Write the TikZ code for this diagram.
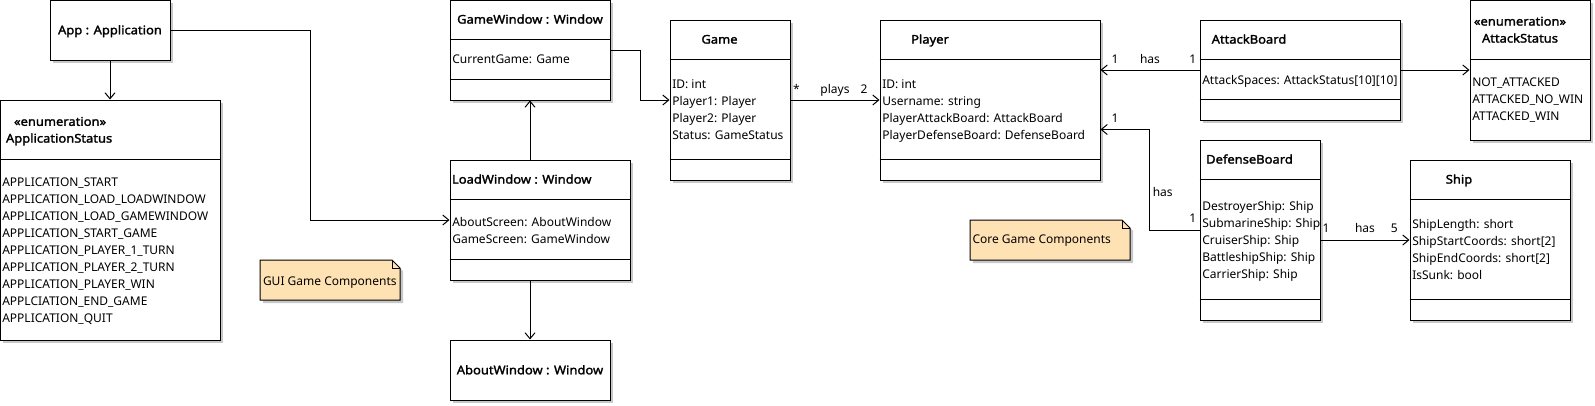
\documentclass[tikz,border=0pt]{standalone}
\usepackage{fontspec}
\setmainfont{Noto Sans}
\newfontfamily\titlefont{Noto Sans}[FakeBold=1.8,FakeStretch=1.08]
\usetikzlibrary{arrows.meta,calc,shadows}
\definecolor{notefill}{RGB}{255,226,180}
\definecolor{shadowgray}{RGB}{200,200,200}
\tikzset{
  umlbox/.style={draw=black,line width=1pt,fill=white,rectangle,inner sep=0pt,
    drop shadow={shadow xshift=3pt,shadow yshift=-3pt,fill=shadowgray,opacity=1}},
  sep/.style={draw=black,line width=1pt},
  arr/.style={draw=black,line width=1pt,-{Straight Barb[length=6pt,width=10pt,line width=1pt]}},
  txt/.style={inner sep=0pt,outer sep=0pt,anchor=base west,font=\fontsize{12}{14}\selectfont},
  boldtxt/.style={inner sep=0pt,outer sep=0pt,anchor=base west,font=\titlefont\fontsize{12}{14}\selectfont},
  ttl/.style={inner sep=0pt,outer sep=0pt,anchor=base,font=\titlefont\fontsize{12}{14}\selectfont},
  lab/.style={inner sep=0pt,outer sep=0pt,anchor=base,font=\fontsize{12}{14}\selectfont},
  notebody/.style={draw=black,line width=1pt,fill=notefill},
}
\newcommand{\mkbox}[5]{%
  \node[umlbox,minimum width={#4-#2},minimum height={#5-#3}] (#1) at ({(#2+#4)/2},{(#3+#5)/2}) {};}
\newcommand{\mksep}[2]{%
  \draw[sep] ($(#1.north west)+(0,#2)$) -- ($(#1.north east)+(0,#2)$);}
\begin{document}
\begin{tikzpicture}[x=1pt,y=-1pt]
\useasboundingbox (0,0) rectangle (1595,405);
% ---- boxes
\mkbox{app}{50}{0}{170}{60}
\mkbox{appst}{0}{100}{220}{340}
\mkbox{gw}{450}{0}{610}{100}
\mkbox{lw}{450}{160}{630}{280}
\mkbox{aw}{450}{340}{610}{400}
\mkbox{game}{670}{20}{790}{180}
\mkbox{player}{880}{20}{1100}{180}
\mkbox{ab}{1200}{20}{1400}{120}
\mkbox{as}{1470}{0}{1590}{140}
\mkbox{db}{1200}{140}{1320}{320}
\mkbox{ship}{1410}{160}{1570}{320}
% separators
\mksep{appst}{60}
\mksep{gw}{40}\mksep{gw}{80}
\mksep{lw}{40}\mksep{lw}{100}
\mksep{game}{40}\mksep{game}{140}
\mksep{player}{40}\mksep{player}{140}
\mksep{ab}{40}\mksep{ab}{80}
\mksep{as}{60}
\mksep{db}{40}\mksep{db}{160}
\mksep{ship}{40}\mksep{ship}{140}
% ---- notes
\fill[shadowgray] (263,263) -- (395,263) -- (403,271) -- (403,303) -- (263,303) -- cycle;
\path[notebody] (260,260) -- (392,260) -- (400,268) -- (400,300) -- (260,300) -- cycle;
\draw[line width=1pt] (392,260) -- (392,268) -- (400,268);
\node[txt] (n1) at (263,285) {GUI Game Components};
\fill[shadowgray] (973,223) -- (1125,223) -- (1133,231) -- (1133,263) -- (973,263) -- cycle;
\path[notebody] (970,220) -- (1122,220) -- (1130,228) -- (1130,260) -- (970,260) -- cycle;
\draw[line width=1pt] (1122,220) -- (1122,228) -- (1130,228);
\node[txt] (n2) at (972.5,243.6) {Core Game Components};
% ---- titles
\node[ttl] (t-app) at (110,34.3) {App : Application};
\node[boldtxt] (t-appst1) at (14,125.8) {«enumeration»};
\node[boldtxt] (t-appst2) at (6,142.6) {ApplicationStatus};
\node[ttl] (t-gw) at (530,23.6) {GameWindow : Window};
\node[boldtxt] (t-lw) at (452,183.6) {LoadWindow : Window};
\node[ttl] (t-aw) at (530,374.3) {AboutWindow : Window};
\node[ttl] (t-game) at (719.5,43.6) {Game};
\node[ttl] (t-player) at (930,43.6) {Player};
\node[ttl] (t-ab) at (1249,43.6) {AttackBoard};
\node[ttl] (t-as1) at (1520,25.6) {«enumeration»};
\node[ttl] (t-as2) at (1520,42.6) {AttackStatus};
\node[ttl] (t-db) at (1249.5,163.6) {DefenseBoard};
\node[ttl] (t-ship) at (1459,183.6) {Ship};
% ---- attributes
\foreach \t [count=\i] in {APPLICATION\_START,APPLICATION\_LOAD\_LOADWINDOW,APPLICATION\_LOAD\_GAMEWINDOW,APPLICATION\_START\_GAME,APPLICATION\_PLAYER\_1\_TURN,APPLICATION\_PLAYER\_2\_TURN,APPLICATION\_PLAYER\_WIN,APPLCIATION\_END\_GAME,APPLICATION\_QUIT}
  \node[txt] (aps\i) at (2.3,{186.2+17*(\i-1)}) {\t};
\node[txt] (gw1) at (452.3,63.6) {CurrentGame: Game};
\node[txt] (lw1) at (452.3,226) {AboutScreen: AboutWindow};
\node[txt] (lw2) at (452.3,243) {GameScreen: GameWindow};
\foreach \t [count=\i] in {ID: int,Player1: Player,Player2: Player,Status: GameStatus}
  \node[txt] (g\i) at (672.3,{88.6+17*(\i-1)}) {\t};
\foreach \t [count=\i] in {ID: int,Username: string,PlayerAttackBoard: AttackBoard,PlayerDefenseBoard: DefenseBoard}
  \node[txt] (p\i) at (882.3,{88.6+17*(\i-1)}) {\t};
\node[txt] (ab1) at (1202.3,84.3) {AttackSpaces: AttackStatus[10][10]};
\foreach \t [count=\i] in {NOT\_ATTACKED,ATTACKED\_NO\_WIN,ATTACKED\_WIN}
  \node[txt] (as\i) at (1472.3,{86.6+17*(\i-1)}) {\t};
\foreach \t [count=\i] in {DestroyerShip: Ship,SubmarineShip: Ship,CruiserShip: Ship,BattleshipShip: Ship,CarrierShip: Ship}
  \node[txt] (db\i) at (1202.3,{210+17*(\i-1)}) {\t};
\foreach \t [count=\i] in {ShipLength: short,ShipStartCoords: short[2],ShipEndCoords: short[2],IsSunk: bool}
  \node[txt] (s\i) at (1412.3,{228.6+17*(\i-1)}) {\t};
% ---- connectors
\draw[arr] (app.south) -- (appst.north);
\draw[arr] (app.east) -- ++(140,0) |- (lw.west);
\draw[arr] (gw.east) -- ++(30,0) |- (game.west);
\draw[arr] (lw.north -| gw.south) -- (gw.south);
\draw[arr] (lw.south -| aw.north) -- (aw.north);
\draw[arr] (game.east) -- (player.west);
\draw[arr] (ab.west) -- (ab.west -| player.east);
\draw[arr] (ab.east) -- (ab.east -| as.west);
\draw[arr] (db.west) -- ++(-50,0) |- ($(player.north east)+(0,110)$);
\draw[arr] (ship.west -| db.east) -- (ship.west);
% ---- connector labels
\node[lab] (l1) at (796.5,93) {*};
\node[lab] (l2) at (835,93) {plays};
\node[lab] (l3) at (864,93) {2};
\node[lab] (l4) at (1115,63) {1};
\node[lab] (l5) at (1150,63) {has};
\node[lab] (l6) at (1192.7,63) {1};
\node[lab] (l7) at (1115,122.6) {1};
\node[lab] (l8) at (1162.7,196) {has};
\node[lab] (l9) at (1192.7,222.6) {1};
\node[lab] (l10) at (1326,232.6) {1};
\node[lab] (l11) at (1365,232.6) {has};
\node[lab] (l12) at (1394.3,232.6) {5};
\end{tikzpicture}
\end{document}
